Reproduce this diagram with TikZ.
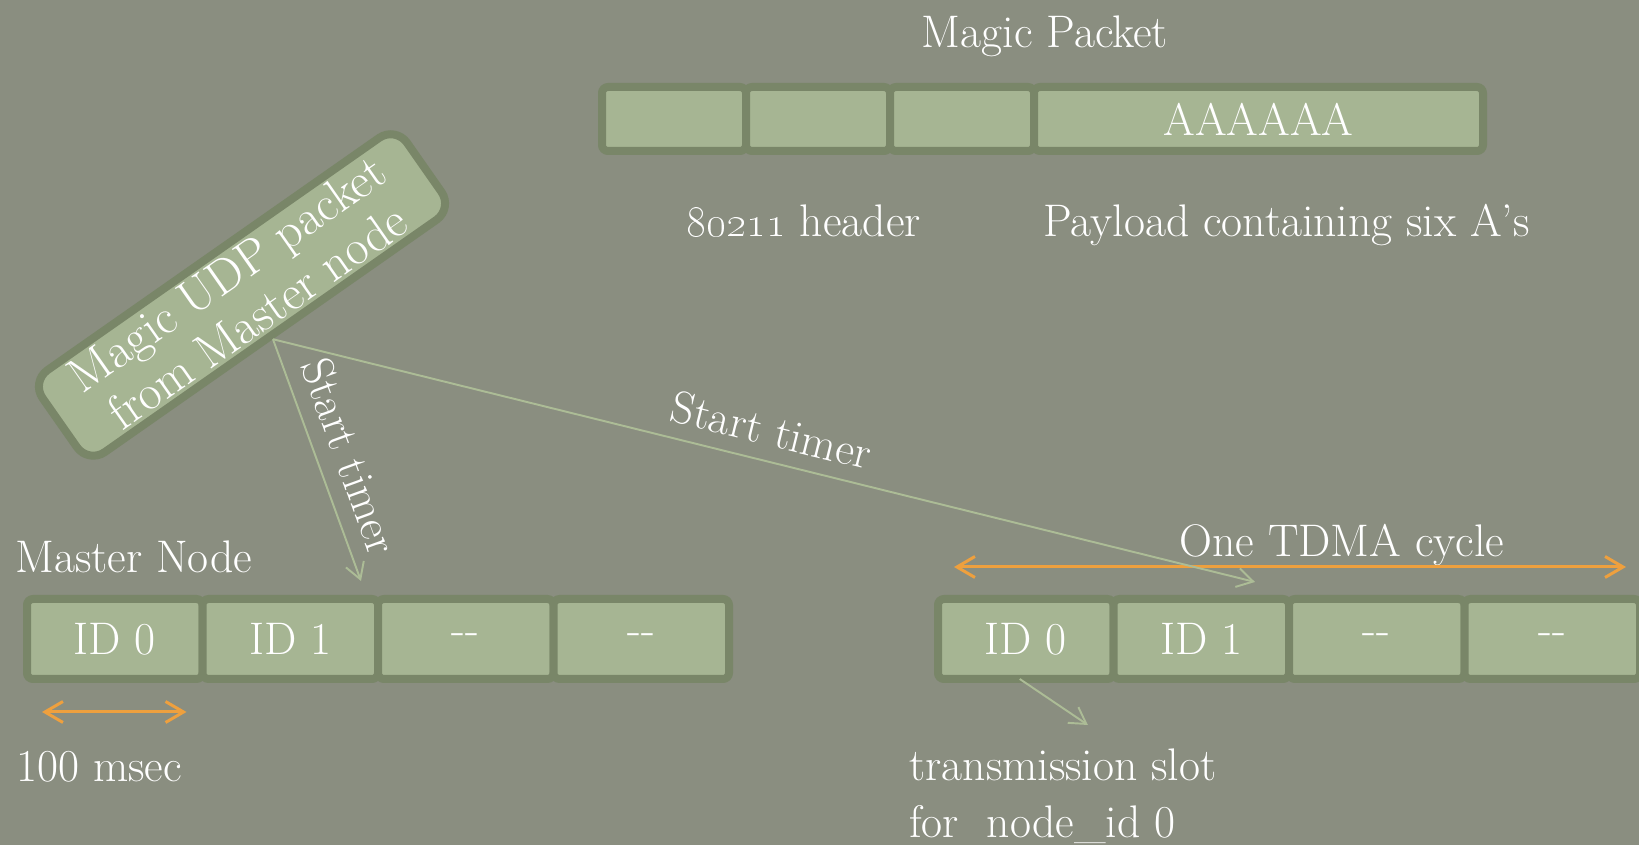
\documentclass[tikz,border=0pt]{standalone}
\usetikzlibrary{positioning,arrows.meta}

\definecolor{bgcol}{RGB}{138,142,128}
\definecolor{cellfill}{RGB}{166,181,147}
\definecolor{cellline}{RGB}{121,134,104}
\definecolor{spancol}{RGB}{238,160,62}
\definecolor{ptrcol}{RGB}{172,188,150}

\tikzset{
    every node/.style={text=white, font=\fontsize{26}{31}\selectfont},
    cellbox/.style={
        draw=cellline,
        fill=cellfill,
        line width=0.16cm,
        rounded corners=0.12cm,
        inner sep=0pt,
        outer sep=0pt,
        minimum height=1.28cm
    },
    idbox/.style={
        cellbox,
        minimum width=3.51cm,
        minimum height=1.6cm
    },
    udpbox/.style={
        draw=cellline,
        fill=cellfill,
        line width=0.16cm,
        rounded corners=0.4cm,
        minimum width=8.9cm,
        minimum height=2.0cm,
        inner sep=0pt,
        align=center,
        font=\fontsize{28}{30}\selectfont
    },
    plain/.style={inner sep=0pt},
    ptr/.style={draw=ptrcol, line width=1.1pt,
        -{Straight Barb[length=0.32cm,width=0.38cm]}},
    spanarrow/.style={draw=spancol, line width=1.7pt,
        {Straight Barb[length=0.36cm,width=0.42cm]}-{Straight Barb[length=0.36cm,width=0.42cm]}}
}

\begin{document}
\begin{tikzpicture}

\useasboundingbox (0,0) rectangle (32.78,16.9);
\fill[bgcol] (0,0) rectangle (32.78,16.9);

% Magic packet layout
\node[plain, anchor=base] (title) at (20.9,15.94) {Magic Packet};
\node[cellbox, minimum width=2.88cm] (h0) at (13.48,14.52) {};
\node[cellbox, minimum width=2.88cm, right=0pt of h0] (h1) {};
\node[cellbox, minimum width=2.88cm, right=0pt of h1] (h2) {};
\node[cellbox, minimum width=8.98cm, right=0pt of h2] (pay) {AAAAAA};
\node[plain, anchor=base] (hdr) at (16.07,12.16) {\oldstylenums{80211} header};
\node[plain, anchor=base] (paytext) at (25.73,12.16) {Payload containing six A’s};

% Rotated magic UDP box
\node[udpbox, rotate=35] (udp) at (4.84,11.0) {Magic UDP packet\\from Master node};

% Master node slots
\node[plain, anchor=base west] (master) at (0.3,5.44) {Master Node};
\node[idbox] (l0) at (2.295,4.12) {ID 0};
\node[idbox, right=0pt of l0] (l1) {ID 1};
\node[idbox, right=0pt of l1] (l2) {-{}-};
\node[idbox, right=0pt of l2] (l3) {-{}-};
\draw[spanarrow] ([xshift=0.3cm,yshift=-0.66cm]l0.south west) -- ([xshift=-0.32cm,yshift=-0.66cm]l0.south east);
\node[plain, anchor=base west] (msec) at (0.32,1.26) {100 msec};

% Other node slots
\node[idbox] (r0) at (20.515,4.12) {ID 0};
\node[idbox, right=0pt of r0] (r1) {ID 1};
\node[idbox, right=0pt of r1] (r2) {-{}-};
\node[idbox, right=0pt of r2] (r3) {-{}-};
\node[plain, anchor=base] (tdma) at (26.84,5.76) {One TDMA cycle};
\draw[spanarrow] ([xshift=0.32cm,yshift=0.64cm]r0.north west) -- ([xshift=-0.28cm,yshift=0.64cm]r3.north east);
\node[plain, anchor=north west, align=left, font=\fontsize{26}{32.5}\selectfont] (slot) at (18.18,1.94)
    {transmission slot\\for\ \ node\_id 0};
\draw[ptr] ([xshift=-0.12cm]r0.south) -- ([xshift=0.5cm,yshift=0.46cm]slot.north);

% Timer arrows
\coordinate (tmaster) at (7.22,5.28);
\coordinate (tother) at (25.1,5.26);
\draw[ptr] (udp.south) -- (tmaster) node[pos=0.53, sloped, above=0.3cm, plain] {Start timer};
\draw[ptr] (udp.south) -- (tother) node[midway, sloped, above=0.28cm, plain] {Start timer};

\end{tikzpicture}
\end{document}
